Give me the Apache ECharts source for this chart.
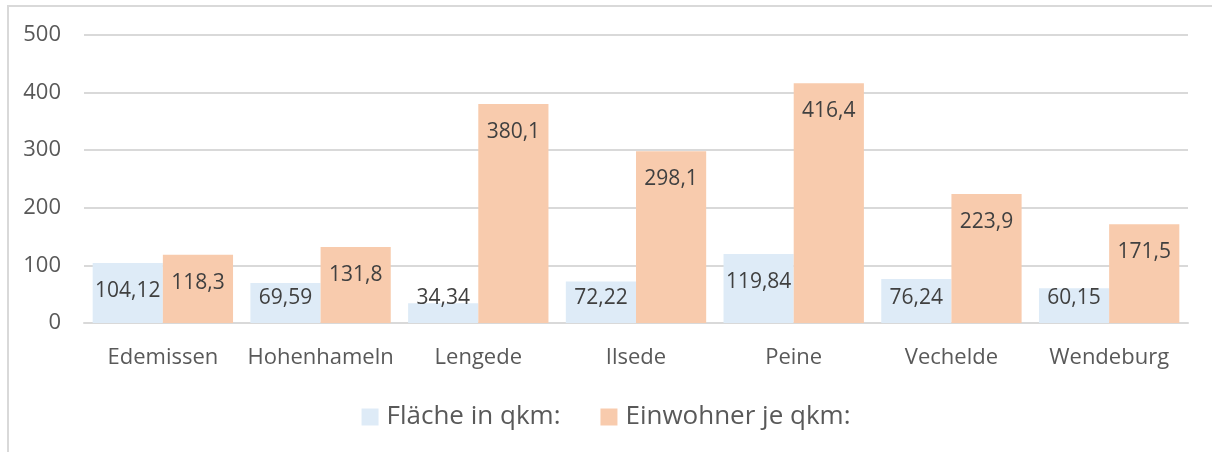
<!DOCTYPE html>
<html>
<head>
<meta charset="utf-8">
<script src="https://cdn.jsdelivr.net/npm/echarts@6/dist/echarts.min.js"></script>
<style>
  html, body { margin: 0; padding: 0; background: #fff; overflow: hidden; }
  #frame { position: absolute; left: 7px; top: 5px; width: 1400px; height: 600px; border: 2px solid #d9d9d9; }
  #chart { position: absolute; left: 0; top: 0; width: 1212px; height: 452px; }
</style>
</head>
<body>
<div id="frame"></div>
<div id="chart"></div>
<script>
// Gemeinden im Landkreis Peine
const categories = ['Edemissen', 'Hohenhameln', 'Lengede', 'Ilsede', 'Peine', 'Vechelde', 'Wendeburg']
const flaeche = [104.12, 69.59, 34.34, 72.22, 119.84, 76.24, 60.15]
const einwohnerJeQkm = [118.3, 131.8, 380.1, 298.1, 416.4, 223.9, 171.5]
const seriesNames = ['Fläche in qkm:', 'Einwohner je qkm:']
const yTicks = [0, 100, 200, 300, 400, 500]

const font = '"Open Sans", "Noto Sans", sans-serif'

const chart = echarts.init(document.getElementById('chart'))

// Beschriftung wie in Excel: knapp unter dem Balkenende, bei kleinen Balken nicht unter die Achse
const labelConf = {
  show: true,
  position: 'inside',
  color: '#404040',
  fontFamily: font,
  fontSize: 21,
  formatter: (p) => String(p.value).replace('.', ','),
}

function placeLabel(params) {
  const r = params.rect
  const cy = Math.min(r.y + 28, r.y + r.height - 25)
  return { x: r.x + r.width / 2, y: cy, align: 'center', verticalAlign: 'middle' }
}

chart.setOption({
  animation: false,
  textStyle: { fontFamily: font },
  grid: { left: 84, right: 24, top: 35, bottom: 129, containLabel: false },
  legend: {
    bottom: 17,
    left: 'center',
    itemWidth: 17,
    itemHeight: 17,
    itemGap: 40,
    icon: 'rect',
    textStyle: { color: '#595959', fontSize: 26, fontFamily: font, padding: [0, 0, 0, 3] },
    data: seriesNames,
  },
  xAxis: {
    type: 'category',
    data: categories,
    axisLine: { show: true, lineStyle: { color: '#d9d9d9', width: 2 } },
    axisTick: { show: false },
    axisLabel: { color: '#595959', fontSize: 22, margin: 24, interval: 0 },
  },
  yAxis: {
    type: 'value',
    min: yTicks[0],
    max: yTicks[yTicks.length - 1],
    interval: 100,
    axisLine: { show: false },
    axisTick: { show: false },
    axisLabel: { color: '#595959', fontSize: 22, margin: 23 },
    splitLine: { lineStyle: { color: '#d9d9d9', width: 2 } },
  },
  series: [
    {
      name: seriesNames[0],
      type: 'bar',
      data: flaeche,
      barGap: '0%',
      barCategoryGap: '11%',
      itemStyle: { color: '#deebf7' },
      label: labelConf,
      labelLayout: placeLabel,
    },
    {
      name: seriesNames[1],
      type: 'bar',
      data: einwohnerJeQkm,
      barGap: '0%',
      barCategoryGap: '11%',
      itemStyle: { color: '#f8cbad' },
      label: labelConf,
      labelLayout: placeLabel,
    },
  ],
})

window.addEventListener('resize', () => chart.resize())
</script>
</body>
</html>
